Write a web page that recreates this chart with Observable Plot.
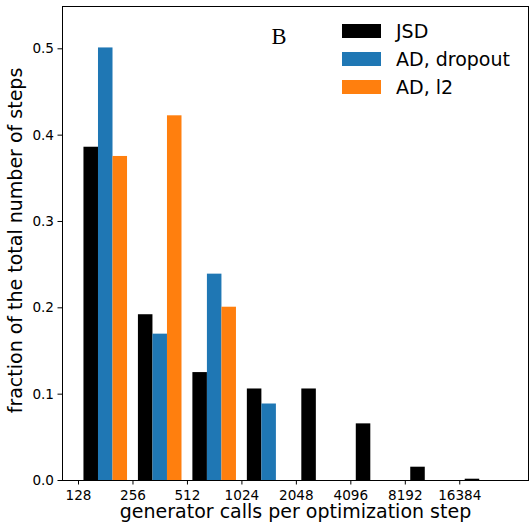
<!DOCTYPE html>
<html>
<head>
<meta charset="utf-8">
<script src="https://cdn.jsdelivr.net/npm/d3@7"></script>
<script src="https://cdn.jsdelivr.net/npm/@observablehq/plot@0.6"></script>
<style>
  html, body { margin: 0; padding: 0; background: #fff; }
  #chart { position: relative; width: 529px; height: 526px; font-family: "DejaVu Sans", sans-serif; }
  #legend { position: absolute; left: 342px; top: 17px; font-size: 19px; color: #000; }
  #legend .row { display: flex; align-items: center; height: 28px; }
  #legend .sw { width: 39px; height: 13.5px; margin-right: 15px; }
</style>
</head>
<body>
<div id="chart"></div>
<script>
// Histogram bins: lower edge of each octave of generator calls
const bins = [128, 256, 512, 1024, 2048, 4096, 8192, 16384];
const series = ["JSD", "AD, dropout", "AD, l2"];
const colors = ["#000000", "#1f77b4", "#ff7f0e"];
// Fraction of the total number of steps per bin
const jsd     = [0.386, 0.192, 0.125, 0.106, 0.106, 0.0656, 0.0154, 0.0015];
const dropout = [0.501, 0.1695, 0.239, 0.0886, 0, 0, 0, 0];
const l2      = [0.3753, 0.4224, 0.2007, 0, 0, 0, 0, 0];
const xTicks = [128, 256, 512, 1024, 2048, 4096, 8192, 16384];
const yTicks = [0, 0.1, 0.2, 0.3, 0.4, 0.5];

// Side-by-side bars inside each octave bin (80% of the bin, split in three)
const values = [jsd, dropout, l2];
const rows = [];
series.forEach((s, i) => {
  bins.forEach((b, k) => {
    const lo = Math.log2(b) + 0.1 + i * 0.8 / 3;
    rows.push({series: s, x1: 2 ** lo, x2: 2 ** (lo + 0.8 / 3), value: values[i][k]});
  });
});

const plot = Plot.plot({
  width: 529,
  height: 526,
  marginLeft: 62,
  marginRight: 1,
  marginTop: 6,
  marginBottom: 46,
  style: {fontFamily: "DejaVu Sans, sans-serif", fontSize: "13.6px", color: "#000", background: "#fff"},
  x: {type: "log", base: 2, domain: [2 ** 6.706, 2 ** 15.262]},
  y: {domain: [0, 0.549]},
  color: {domain: series, range: colors},
  marks: [
    Plot.rectY(rows.filter(d => d.value > 0), {x1: "x1", x2: "x2", y: "value", fill: "series"}),
    Plot.axisX({ticks: xTicks, tickFormat: d3.format("d"), tickSize: 4.5, tickPadding: 5.5, label: null}),
    Plot.axisY({ticks: yTicks, tickFormat: d3.format(".1f"), tickSize: 4.5, tickPadding: 4, label: null}),
    Plot.frame({stroke: "#000", strokeWidth: 1}),
    Plot.text(["generator calls per optimization step"], {
      frameAnchor: "bottom", textAnchor: "middle", dy: 37.5, fontSize: 19, fill: "#000", text: d => d
    }),
    Plot.text(["fraction of the total number of steps"], {
      frameAnchor: "left", textAnchor: "middle", rotate: -90, dx: -46.3, dy: -3, fontSize: 19, fill: "#000", text: d => d
    }),
    Plot.text(["B"], {
      frameAnchor: "top-left", dx: 209, dy: 37, textAnchor: "start", lineAnchor: "bottom",
      fontSize: 22.5, fontFamily: "Liberation Serif, serif", fill: "#000", text: d => d
    })
  ]
});

const chart = document.getElementById("chart");
chart.appendChild(plot);

const legend = document.createElement("div");
legend.id = "legend";
series.forEach((s, i) => {
  const row = document.createElement("div");
  row.className = "row";
  const sw = document.createElement("span");
  sw.className = "sw";
  sw.style.background = colors[i];
  const label = document.createElement("span");
  label.textContent = s;
  row.appendChild(sw);
  row.appendChild(label);
  legend.appendChild(row);
});
chart.appendChild(legend);
</script>
</body>
</html>
